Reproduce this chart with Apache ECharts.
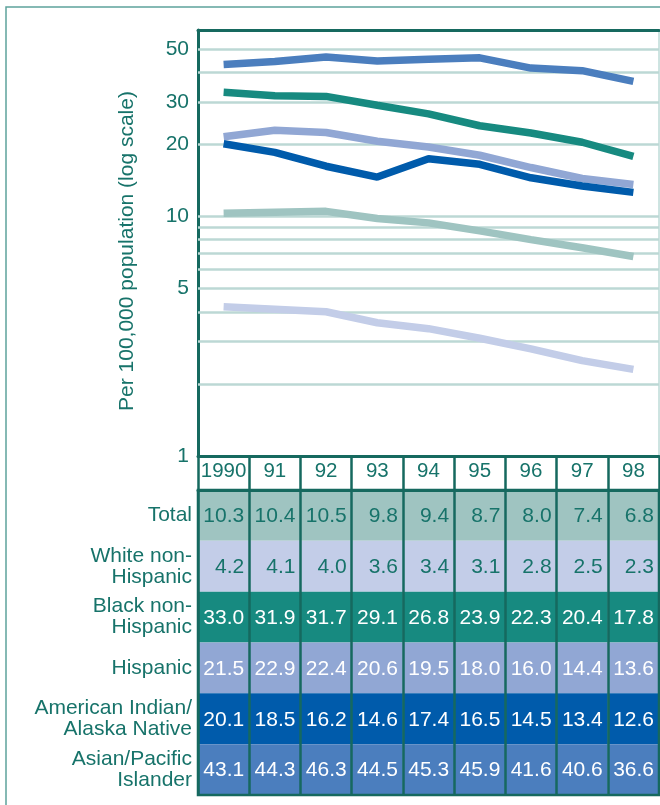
<!DOCTYPE html>
<html>
<head>
<meta charset="utf-8">
<script src="https://cdn.jsdelivr.net/npm/echarts@6/dist/echarts.min.js"></script>
<style>
  html, body { margin: 0; padding: 0; background: #ffffff; }
  #chart { width: 660px; height: 805px; }
</style>
</head>
<body>
<div id="chart"></div>
<script>
// Years shown along the bottom and as the header row of the table
const years = ['1990', '91', '92', '93', '94', '95', '96', '97', '98'];

// Group names (row labels of the table)
const groups = [
  'Total',
  'White non-\nHispanic',
  'Black non-\nHispanic',
  'Hispanic',
  'American Indian/\nAlaska Native',
  'Asian/Pacific\nIslander'
];

// Rates per 100,000 population, one array per group
const total    = [10.3, 10.4, 10.5, 9.8, 9.4, 8.7, 8.0, 7.4, 6.8];
const white    = [4.2, 4.1, 4.0, 3.6, 3.4, 3.1, 2.8, 2.5, 2.3];
const black    = [33.0, 31.9, 31.7, 29.1, 26.8, 23.9, 22.3, 20.4, 17.8];
const hispanic = [21.5, 22.9, 22.4, 20.6, 19.5, 18.0, 16.0, 14.4, 13.6];
const amIndian = [20.1, 18.5, 16.2, 14.6, 17.4, 16.5, 14.5, 13.4, 12.6];
const asian    = [43.1, 44.3, 46.3, 44.5, 45.3, 45.9, 41.6, 40.6, 36.6];

// Labelled values and gridline values of the log axis
const yTickLabels = [1, 5, 10, 20, 30, 50];
const gridValues = [2, 3, 4, 5, 6, 7, 8, 9, 10, 20, 30, 40, 50];

const seriesValues = [total, white, black, hispanic, amIndian, asian];
const seriesColors = ['#9fc4c1', '#c3cde8', '#178a80', '#91a7d4', '#005bab', '#4b7ebe'];
const cellText = ['#17736a', '#17736a', '#ffffff', '#ffffff', '#ffffff', '#ffffff'];

const TEAL = '#16695f';
const TEXT = '#17736a';
const FONT = 'Liberation Sans, Arial, sans-serif';

// Table cells: [column, row, value]
const cells = [];
seriesValues.forEach((vals, r) => vals.forEach((v, c) => cells.push([c, r, v])));

const lineSeries = seriesValues.map((vals, i) => ({
  type: 'line',
  name: groups[i].replace('\n', ' '),
  xAxisIndex: 0,
  yAxisIndex: 0,
  data: vals,
  symbol: 'none',
  silent: true,
  z: 3,
  lineStyle: { width: 7.5, color: seriesColors[i], cap: 'butt' }
}));

// Horizontal reference lines of the log scale
lineSeries[0].markLine = {
  silent: true,
  symbol: 'none',
  z: 1,
  label: { show: false },
  lineStyle: { color: '#bcd8d5', width: 2.5, type: 'solid' },
  data: gridValues.map(v => ({ yAxis: v }))
};

const chart = echarts.init(document.getElementById('chart'), null, { renderer: 'canvas' });

chart.setOption({
  animation: false,
  backgroundColor: '#ffffff',
  textStyle: { fontFamily: FONT },
  graphic: [{
    type: 'rect',
    shape: { x: 6, y: 7, width: 720, height: 900 },
    style: { fill: 'none', stroke: '#5da39c', lineWidth: 1.5 },
    silent: true
  }],
  grid: [
    { left: 198, right: 1, top: 30, bottom: 349, show: true, borderColor: '#9cc8c3', borderWidth: 1 },
    { left: 198, right: 1, top: 490, bottom: 10, show: true, borderColor: TEAL, borderWidth: 2.5, z: 10 }
  ],
  xAxis: [
    {
      type: 'category', gridIndex: 0, data: years, boundaryGap: true,
      axisLine: { lineStyle: { color: TEAL, width: 3 } },
      axisTick: { inside: true, length: 12, alignWithLabel: true, lineStyle: { color: TEAL, width: 2.5 } },
      axisLabel: { show: false },
      splitLine: { show: false }
    },
    {
      type: 'category', gridIndex: 0, data: years, position: 'top', boundaryGap: true,
      axisLine: { lineStyle: { color: TEAL, width: 3 } },
      axisTick: { show: false }, axisLabel: { show: false }, splitLine: { show: false }
    },
    {
      type: 'category', gridIndex: 1, data: years, position: 'top', boundaryGap: true, z: 10,
      axisLine: { lineStyle: { color: TEAL, width: 3 } },
      axisTick: { show: true, length: 33, interval: 0, lineStyle: { color: TEAL, width: 2.5 } },
      axisLabel: { color: TEXT, fontSize: 20.5, margin: 8, interval: 0, fontFamily: FONT },
      splitLine: { show: true, interval: 0, lineStyle: { color: TEAL, width: 2.5 } }
    }
  ],
  yAxis: [
    {
      type: 'log', gridIndex: 0, logBase: 10, min: 1, max: 60,
      name: 'Per 100,000 population (log scale)',
      nameLocation: 'middle', nameGap: 60,
      nameTextStyle: { color: TEXT, fontSize: 21, fontFamily: FONT, padding: [0, 16, 0, 0] },
      axisLine: { show: true, lineStyle: { color: TEAL, width: 3 } },
      axisTick: { show: false },
      axisLabel: { color: TEXT, fontSize: 21, margin: 9, fontFamily: FONT, customValues: yTickLabels },
      splitLine: { show: false }
    },
    {
      type: 'category', gridIndex: 1, data: groups, inverse: true,
      axisLine: { show: false }, axisTick: { show: false },
      axisLabel: { color: TEXT, fontSize: 21, lineHeight: 21, margin: 6, align: 'right', fontFamily: FONT },
      splitLine: { show: false }
    }
  ],
  series: lineSeries.concat([{
    type: 'custom',
    xAxisIndex: 2,
    yAxisIndex: 1,
    silent: true,
    z: 2,
    encode: { x: 0, y: 1 },
    data: cells,
    renderItem: function (params, api) {
      const col = api.value(0);
      const row = api.value(1);
      const val = api.value(2);
      const c = api.coord([col, row]);
      const s = api.size([1, 1]);
      return {
        type: 'group',
        children: [
          {
            type: 'rect',
            shape: { x: c[0] - s[0] / 2, y: c[1] - s[1] / 2, width: s[0], height: s[1] },
            style: { fill: seriesColors[row] }
          },
          {
            type: 'text',
            style: {
              text: Number(val).toFixed(1),
              x: c[0] + s[0] / 2 - 5,
              y: c[1] + 1,
              align: 'right',
              verticalAlign: 'middle',
              font: '21px ' + FONT,
              fill: cellText[row]
            }
          }
        ]
      };
    }
  }])
});
</script>
</body>
</html>
